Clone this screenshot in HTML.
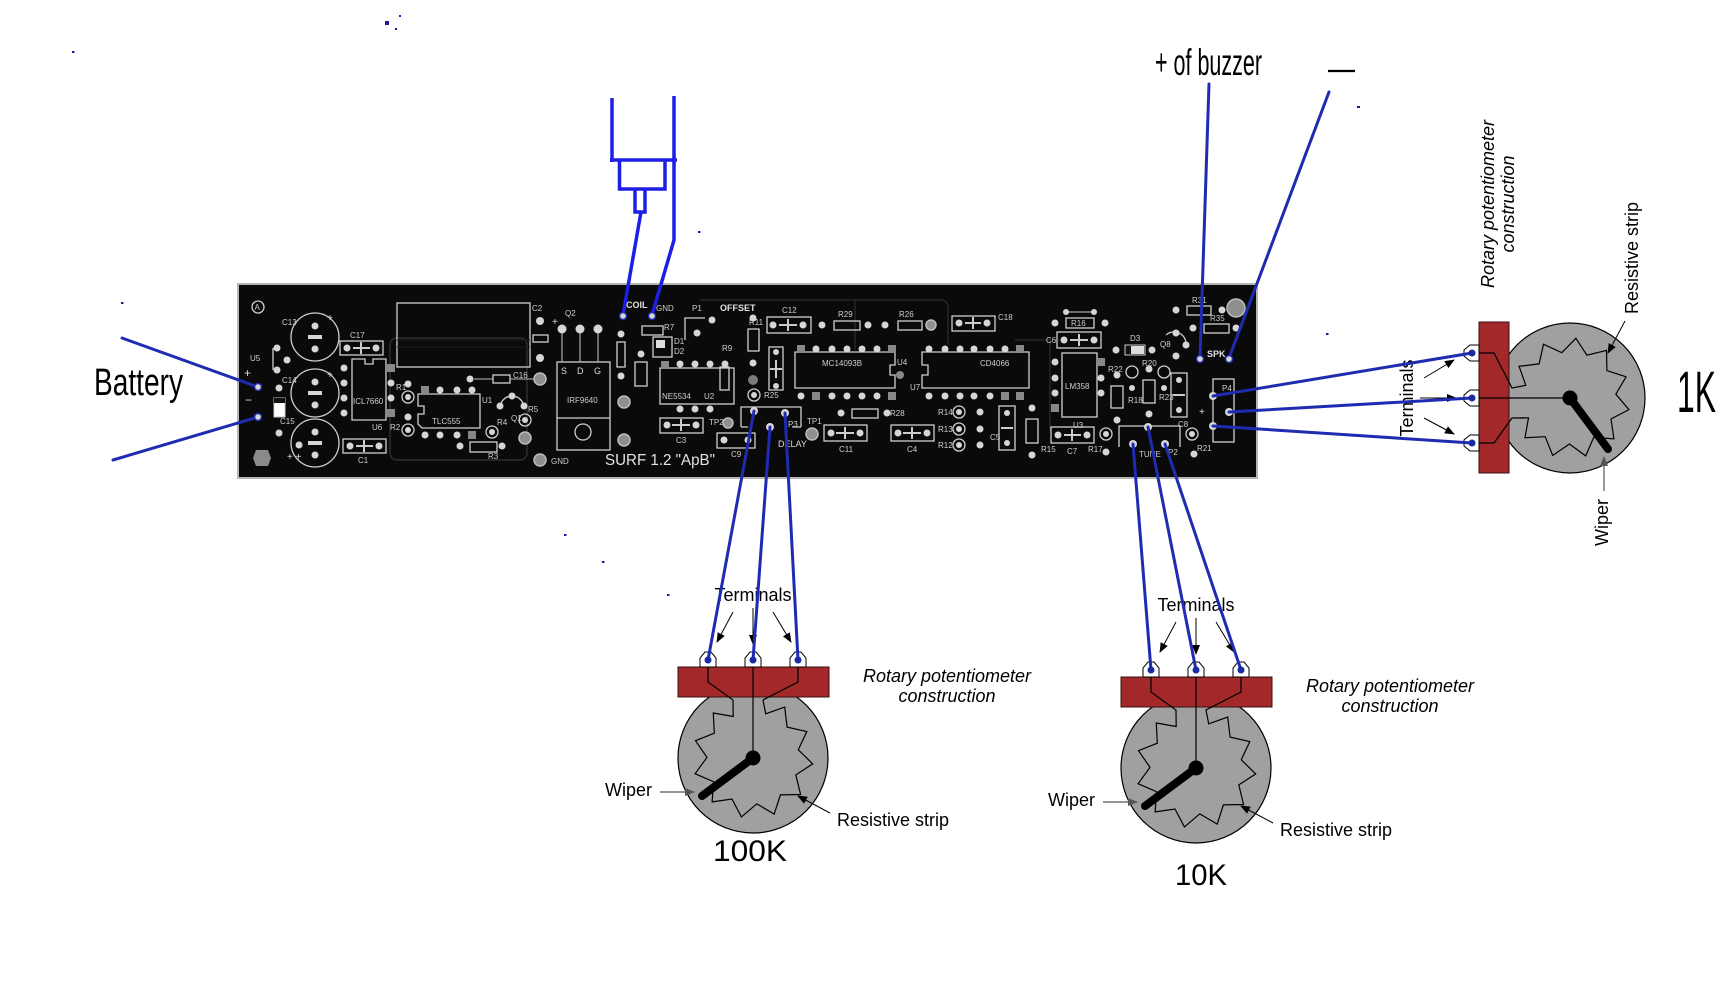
<!DOCTYPE html>
<html><head><meta charset="utf-8"><style>
html,body{margin:0;padding:0;background:#fff;}
svg{display:block;font-family:"Liberation Sans",Arial,sans-serif;}
.o{fill:none;stroke:#cfcfcf;stroke-width:1.3}
.p{fill:#d6d6d6}
.g{fill:#8f8f8f;stroke:#bdbdbd;stroke-width:1.5}
.l{fill:#cfcfcf;font-size:8px}
.lb{fill:#e0e0e0;font-size:9px;font-weight:bold}
.w{stroke:#1f2bb0;stroke-width:3;fill:none;stroke-linecap:round}
.c{stroke:#1e1ee6;stroke-width:3.5;fill:none}
.t{font-size:18px;fill:#000}
</style></head><body>
<svg width="1728" height="1008" viewBox="0 0 1728 1008" xmlns="http://www.w3.org/2000/svg">
<defs>
<marker id="ah" markerWidth="10" markerHeight="8" refX="9" refY="4" orient="auto" markerUnits="userSpaceOnUse"><path d="M0,0 L10,4 L0,8 z" fill="#000"/></marker>
<marker id="ag" markerWidth="10" markerHeight="8" refX="9" refY="4" orient="auto" markerUnits="userSpaceOnUse"><path d="M0,0 L10,4 L0,8 z" fill="#555"/></marker>
</defs>
<rect width="1728" height="1008" fill="#fff"/>

<!-- specks -->
<g fill="#1a1a9a">
<rect x="72" y="51" width="2.5" height="2"/><rect x="385" y="21" width="4" height="4"/><rect x="399" y="15" width="2" height="2"/><rect x="395" y="28" width="2" height="2"/>
<rect x="121" y="302" width="2.5" height="2"/><rect x="698" y="231" width="2.5" height="2"/><rect x="1326" y="333" width="2.5" height="2"/><rect x="1357" y="106" width="3" height="2"/>
<rect x="564" y="534" width="2.5" height="2"/><rect x="602" y="561" width="2.5" height="2"/><rect x="667" y="594" width="2.5" height="2"/>
</g>

<!-- PCB board -->
<rect x="238" y="284" width="1019" height="194" fill="#0a0a0a" stroke="#b5b5b5" stroke-width="2"/>
<g>
<path d="M390,345 Q390,338 398,338 L520,338 Q527,338 527,346 L527,452 Q527,460 519,460 L398,460 Q390,460 390,452 Z" fill="none" stroke="#2c2c2c" stroke-width="1.5"/>
<path d="M700,300 L940,300 Q948,300 948,308 L948,345 M855,300 L855,350 M1015,340 L1050,340 L1050,430" fill="none" stroke="#262626" stroke-width="1.5"/>
<circle cx="258" cy="307" r="6" class="o"/><text x="254.5" y="310" class="l">A</text>
<text x="244" y="377" fill="#ddd" font-size="12">+</text><text x="245" y="404" fill="#ddd" font-size="12">−</text>
<circle cx="258" cy="387" r="4" class="p"/><circle cx="258" cy="417" r="4" class="p"/>
<text x="250" y="361" class="l">U5</text>
<circle cx="277" cy="348" r="3.5" class="p"/><circle cx="287" cy="360" r="3.5" class="p"/><circle cx="277" cy="370" r="3.5" class="p"/>
<path d="M273,348 L273,370" class="o"/>
<rect x="274" y="398" width="11" height="19" fill="#fff" stroke="#ccc"/><rect x="274" y="398" width="11" height="5" fill="#111"/>
<circle cx="279" cy="388" r="3.5" class="p"/><circle cx="279" cy="433" r="3.5" class="p"/>
<g>
<circle cx="315" cy="337" r="24" class="o"/><circle cx="315" cy="326" r="3.5" class="p"/><circle cx="315" cy="349" r="3.5" class="p"/><rect x="308" y="335" width="14" height="4" class="p"/>
<circle cx="315" cy="393" r="24" class="o"/><circle cx="315" cy="382" r="3.5" class="p"/><circle cx="315" cy="405" r="3.5" class="p"/><rect x="308" y="391" width="14" height="4" class="p"/>
<circle cx="315" cy="443" r="24" class="o"/><circle cx="315" cy="432" r="3.5" class="p"/><circle cx="315" cy="455" r="3.5" class="p"/><rect x="308" y="441" width="14" height="4" class="p"/>
<circle cx="299" cy="445" r="3.5" class="p"/>
<text x="282" y="325" class="l">C13</text><text x="282" y="383" class="l">C14</text><text x="280" y="424" class="l">C15</text>
<text x="327" y="321" fill="#ddd" font-size="10">+</text><text x="327" y="378" fill="#ddd" font-size="10">+</text><text x="287" y="460" fill="#ddd" font-size="10">+ +</text>
</g>
<rect x="340" y="341" width="43" height="14" class="o"/><circle cx="347" cy="348" r="3.5" class="p"/><circle cx="376" cy="348" r="3.5" class="p"/><path d="M353,348 H370 M361,342 V354" stroke="#ccc" stroke-width="2"/>
<text x="350" y="338" class="l">C17</text>
<path d="M352,359 H365 V364 H373 V359 H386 V420 H352 Z" class="o"/>
<text x="353" y="404" class="l" font-size="7">ICL7660</text>
<g class="p"><circle cx="344" cy="368" r="3.5"/><circle cx="344" cy="383" r="3.5"/><circle cx="344" cy="398" r="3.5"/><circle cx="344" cy="413" r="3.5"/>
<circle cx="391" cy="383" r="3.5"/><circle cx="391" cy="398" r="3.5"/></g>
<rect x="387" y="364" width="8" height="8" fill="#888"/><rect x="387" y="409" width="8" height="8" fill="#888"/>
<text x="372" y="430" class="l">U6</text>
<rect x="343" y="439" width="43" height="14" class="o"/><circle cx="350" cy="446" r="3.5" class="p"/><circle cx="379" cy="446" r="3.5" class="p"/><path d="M356,446 H373 M364,440 V452" stroke="#ccc" stroke-width="2"/>
<text x="358" y="463" class="l">C1</text>
<polygon points="256,450 268,450 271,458 268,466 256,466 253,458" fill="#8a8a8a"/>
<rect x="397" y="303" width="133" height="64" class="o"/><path d="M397,340 H530 M397,347 H530" stroke="#1c1c1c" stroke-width="1"/>
<text x="532" y="311" class="l">C2</text><circle cx="540" cy="321" r="4" class="p"/><circle cx="540" cy="358" r="4" class="p"/>
<rect x="533" y="335" width="15" height="7" class="o"/>
<circle cx="408" cy="397" r="6" class="o"/><circle cx="408" cy="397" r="3" class="p"/><circle cx="408" cy="384" r="3.5" class="p"/><text x="396" y="390" class="l">R1</text>
<circle cx="408" cy="430" r="6" class="o"/><circle cx="408" cy="430" r="3" class="p"/><circle cx="408" cy="417" r="3.5" class="p"/><text x="390" y="430" class="l">R2</text>
<path d="M418,394 H480 V428 H422 L418,424 V414 H424 V406 H418 Z" class="o"/>
<text x="432" y="424" class="l">TLC555</text>
<g class="p"><circle cx="440" cy="390" r="3.5"/><circle cx="457" cy="390" r="3.5"/><circle cx="472" cy="390" r="3.5"/>
<circle cx="425" cy="435" r="3.5"/><circle cx="440" cy="435" r="3.5"/><circle cx="457" cy="435" r="3.5"/></g>
<rect x="421" y="386" width="8" height="8" fill="#888"/><rect x="468" y="431" width="8" height="8" fill="#888"/>
<text x="482" y="403" class="l">U1</text>
<circle cx="470" cy="379" r="3.5" class="p"/><path d="M474,379 H493 M510,379 H534" stroke="#bbb"/><rect x="493" y="375" width="17" height="8" class="o"/>
<text x="513" y="378" class="l">C16</text><circle cx="540" cy="379" r="6" class="g"/>
<path d="M500,408 A12,12 0 0 1 524,408" class="o"/>
<circle cx="512" cy="396" r="3.5" class="p"/><circle cx="500" cy="406" r="3.5" class="p"/><circle cx="524" cy="406" r="3.5" class="p"/>
<text x="511" y="421" class="l">Q1</text>
<circle cx="492" cy="432" r="6" class="o"/><circle cx="492" cy="432" r="3" class="p"/><text x="497" y="425" class="l">R4</text>
<circle cx="525" cy="420" r="6" class="o"/><circle cx="525" cy="420" r="3" class="p"/><text x="528" y="412" class="l">R5</text>
<circle cx="525" cy="438" r="6" class="g"/>
<rect x="470" y="442" width="27" height="10" class="o"/><circle cx="460" cy="446" r="3.5" class="p"/><circle cx="502" cy="446" r="3.5" class="p"/>
<text x="488" y="459" class="l">R3</text>
<circle cx="540" cy="460" r="6" class="g"/><text x="551" y="464" class="l" font-size="7">GND</text>
<text x="552" y="325" fill="#ddd" font-size="10">+</text><text x="565" y="316" class="l">Q2</text>
<circle cx="562" cy="329" r="4.5" class="p"/><circle cx="580" cy="329" r="4.5" class="p"/><circle cx="598" cy="329" r="4.5" class="p"/>
<path d="M562,333 V362 M580,333 V362 M598,333 V362" stroke="#ccc"/>
<rect x="557" y="362" width="53" height="88" class="o"/><path d="M557,418 H610" class="o"/><circle cx="583" cy="432" r="8" class="o"/>
<text x="561" y="374" fill="#ddd" font-size="9">S</text><text x="577" y="374" fill="#ddd" font-size="9">D</text><text x="594" y="374" fill="#ddd" font-size="9">G</text>
<text x="567" y="403" class="l" font-size="7">IRF9640</text>
<text x="605" y="465" fill="#e2e2e2" font-size="16" textLength="110" lengthAdjust="spacingAndGlyphs">SURF 1.2 "ApB"</text>
<text x="626" y="308" class="lb" font-size="10">COIL</text><text x="656" y="311" class="l" font-size="7">GND</text>
<circle cx="623" cy="316" r="3.5" class="p"/><circle cx="652" cy="316" r="3.5" class="p"/>
<rect x="617" y="342" width="8" height="25" class="o"/><circle cx="621" cy="334" r="3.5" class="p"/><circle cx="621" cy="376" r="3.5" class="p"/>
<rect x="635" y="362" width="12" height="24" class="o"/><circle cx="641" cy="354" r="3.5" class="p"/>
<rect x="642" y="326" width="21" height="9" class="o"/><text x="664" y="330" class="l">R7</text>
<rect x="653" y="337" width="19" height="20" class="o"/><rect x="656" y="340" width="9" height="8" fill="#ddd"/>
<text x="674" y="344" class="l" font-size="7">D1</text><text x="674" y="354" class="l" font-size="7">D2</text>
<circle cx="624" cy="402" r="6" class="g"/><circle cx="624" cy="440" r="6" class="g"/>
<text x="692" y="311" class="l">P1</text><path d="M685,340 V318 H705" class="o"/><circle cx="697" cy="333" r="3.5" class="p"/><circle cx="712" cy="320" r="3.5" class="p"/>
<text x="720" y="311" class="lb" font-size="8.5">OFFSET</text>
<rect x="660" y="368" width="74" height="36" class="o"/><text x="662" y="399" class="l" font-size="7">NE5534</text><text x="704" y="399" class="l" font-size="7">U2</text>
<g class="p"><circle cx="680" cy="364" r="3.5"/><circle cx="695" cy="364" r="3.5"/><circle cx="710" cy="364" r="3.5"/><circle cx="725" cy="364" r="3.5"/>
<circle cx="680" cy="409" r="3.5"/><circle cx="695" cy="409" r="3.5"/><circle cx="710" cy="409" r="3.5"/></g>
<rect x="661" y="361" width="8" height="8" fill="#888"/>
<rect x="660" y="418" width="43" height="15" class="o"/><circle cx="667" cy="425" r="3.5" class="p"/><circle cx="696" cy="425" r="3.5" class="p"/><path d="M672,425 H690 M681,419 V431" stroke="#ccc" stroke-width="2"/>
<text x="676" y="443" class="l">C3</text>
<text x="709" y="425" class="l">TP2</text><circle cx="728" cy="423" r="5" class="g"/>
<rect x="717" y="433" width="38" height="15" class="o"/><circle cx="724" cy="440" r="3.5" class="p"/><circle cx="748" cy="440" r="3.5" class="p"/>
<text x="731" y="457" class="l">C9</text>
<rect x="720" y="367" width="9" height="23" class="o"/><text x="722" y="351" class="l">R9</text>
<rect x="748" y="329" width="11" height="22" class="o"/><text x="749" y="325" class="l">R11</text><circle cx="753" cy="318" r="3.5" class="p"/><circle cx="753" cy="363" r="3.5" class="p"/>
<circle cx="753" cy="380" r="5" fill="#7a7a7a"/>
<rect x="767" y="317" width="44" height="16" class="o"/><circle cx="773" cy="325" r="3.5" class="p"/><circle cx="803" cy="325" r="3.5" class="p"/><path d="M779,325 H797 M788,319 V331" stroke="#ccc" stroke-width="2"/>
<text x="782" y="313" class="l">C12</text>
<rect x="834" y="321" width="26" height="9" class="o"/><circle cx="822" cy="325" r="3.5" class="p"/><circle cx="868" cy="325" r="3.5" class="p"/><text x="838" y="317" class="l">R29</text>
<rect x="898" y="321" width="24" height="9" class="o"/><circle cx="885" cy="325" r="3.5" class="p"/><circle cx="931" cy="325" r="5" class="g"/><text x="899" y="317" class="l">R26</text>
<rect x="952" y="316" width="43" height="15" class="o"/><circle cx="959" cy="323" r="3.5" class="p"/><circle cx="987" cy="323" r="3.5" class="p"/><path d="M965,323 H981 M973,317 V329" stroke="#ccc" stroke-width="2"/>
<text x="998" y="320" class="l">C18</text>
<rect x="769" y="347" width="14" height="43" class="o"/><path d="M770,369 H782 M776,360 V378" stroke="#ccc" stroke-width="2"/><circle cx="776" cy="352" r="3" class="p"/><circle cx="776" cy="386" r="3" class="p"/>
<path d="M795,352 H895 V365 H890 V375 H895 V388 H795 Z" class="o"/>
<text x="822" y="366" class="l" font-size="7">MC14093B</text><text x="897" y="365" class="l" font-size="7">U4</text>
<g class="p"><circle cx="816" cy="349" r="3.5"/><circle cx="832" cy="349" r="3.5"/><circle cx="847" cy="349" r="3.5"/><circle cx="862" cy="349" r="3.5"/><circle cx="877" cy="349" r="3.5"/>
<circle cx="801" cy="396" r="3.5"/><circle cx="832" cy="396" r="3.5"/><circle cx="847" cy="396" r="3.5"/><circle cx="862" cy="396" r="3.5"/><circle cx="877" cy="396" r="3.5"/></g>
<g fill="#888"><rect x="797" y="345" width="8" height="8"/><rect x="888" y="345" width="8" height="8"/><rect x="812" y="392" width="8" height="8"/><rect x="888" y="392" width="8" height="8"/></g>
<circle cx="900" cy="375" r="4" fill="#888"/>
<path d="M922,352 H1029 V388 H922 V375 H928 V365 H922 Z" class="o"/>
<text x="980" y="366" class="l" font-size="7">CD4066</text><text x="910" y="390" class="l" font-size="7">U7</text>
<g class="p"><circle cx="929" cy="349" r="3.5"/><circle cx="945" cy="349" r="3.5"/><circle cx="960" cy="349" r="3.5"/><circle cx="974" cy="349" r="3.5"/><circle cx="990" cy="349" r="3.5"/><circle cx="1005" cy="349" r="3.5"/>
<circle cx="929" cy="396" r="3.5"/><circle cx="945" cy="396" r="3.5"/><circle cx="960" cy="396" r="3.5"/><circle cx="974" cy="396" r="3.5"/><circle cx="990" cy="396" r="3.5"/></g>
<g fill="#888"><rect x="1016" y="345" width="8" height="8"/><rect x="1001" y="392" width="8" height="8"/><rect x="1016" y="392" width="8" height="8"/></g>
<circle cx="754" cy="395" r="6" class="o"/><circle cx="754" cy="395" r="3" class="p"/><text x="764" y="398" class="l">R25</text>
<path d="M741,427 V407 H801 V427 M741,427 H748 M792,427 H801" class="o"/>
<text x="788" y="427" class="l">P3</text><text x="778" y="447" fill="#d8d8d8" font-size="9">DELAY</text>
<text x="807" y="424" class="l">TP1</text><circle cx="812" cy="434" r="6" class="g"/>
<rect x="824" y="425" width="43" height="16" class="o"/><circle cx="831" cy="433" r="3.5" class="p"/><circle cx="860" cy="433" r="3.5" class="p"/><path d="M836,433 H854 M845,427 V439" stroke="#ccc" stroke-width="2"/>
<text x="839" y="452" class="l">C11</text>
<rect x="852" y="409" width="26" height="9" class="o"/><circle cx="841" cy="413" r="3.5" class="p"/><circle cx="887" cy="413" r="3.5" class="p"/><text x="890" y="416" class="l">R28</text>
<rect x="891" y="425" width="43" height="16" class="o"/><circle cx="898" cy="433" r="3.5" class="p"/><circle cx="927" cy="433" r="3.5" class="p"/><path d="M903,433 H921 M912,427 V439" stroke="#ccc" stroke-width="2"/>
<text x="907" y="452" class="l">C4</text>
<g><circle cx="959" cy="412" r="6" class="o"/><circle cx="959" cy="412" r="3" class="p"/><circle cx="980" cy="412" r="3.5" class="p"/>
<circle cx="959" cy="429" r="6" class="o"/><circle cx="959" cy="429" r="3" class="p"/><circle cx="980" cy="429" r="3.5" class="p"/>
<circle cx="959" cy="445" r="6" class="o"/><circle cx="959" cy="445" r="3" class="p"/><circle cx="980" cy="445" r="3.5" class="p"/>
<text x="938" y="415" class="l">R14</text><text x="938" y="432" class="l">R13</text><text x="938" y="448" class="l">R12</text></g>
<rect x="999" y="406" width="16" height="44" class="o"/><circle cx="1007" cy="413" r="3" class="p"/><circle cx="1007" cy="443" r="3" class="p"/><path d="M1001,428 H1013" stroke="#ccc" stroke-width="2"/>
<text x="990" y="440" class="l">C5</text>
<circle cx="1032" cy="408" r="3.5" class="p"/><rect x="1026" y="419" width="12" height="24" class="o"/><circle cx="1032" cy="455" r="3.5" class="p"/><text x="1041" y="452" class="l">R15</text>
<rect x="1051" y="427" width="43" height="16" class="o"/><circle cx="1058" cy="435" r="3.5" class="p"/><circle cx="1087" cy="435" r="3.5" class="p"/><path d="M1064,435 H1081 M1072,429 V441" stroke="#ccc" stroke-width="2"/>
<text x="1067" y="454" class="l">C7</text>
<circle cx="1106" cy="434" r="6" class="o"/><circle cx="1106" cy="434" r="3" class="p"/><circle cx="1106" cy="452" r="3.5" class="p"/><text x="1088" y="452" class="l">R17</text>
<rect x="1062" y="353" width="35" height="64" class="o"/><text x="1065" y="389" class="l" font-size="7">LM358</text><text x="1073" y="428" class="l" font-size="7">U3</text>
<g class="p"><circle cx="1055" cy="362" r="3.5"/><circle cx="1055" cy="378" r="3.5"/><circle cx="1055" cy="393" r="3.5"/><circle cx="1055" cy="408" r="3.5"/>
<circle cx="1101" cy="378" r="3.5"/><circle cx="1101" cy="393" r="3.5"/></g>
<rect x="1097" y="358" width="8" height="8" fill="#888"/><rect x="1051" y="404" width="8" height="8" fill="#888"/>
<rect x="1066" y="318" width="28" height="10" class="o"/><circle cx="1055" cy="323" r="3.5" class="p"/><circle cx="1105" cy="323" r="3.5" class="p"/><text x="1071" y="326" class="l" font-size="7">R16</text>
<path d="M1068,312 H1092" stroke="#ccc"/><circle cx="1066" cy="312" r="3" class="p"/><circle cx="1094" cy="312" r="3" class="p"/>
<rect x="1057" y="332" width="44" height="16" class="o"/><circle cx="1064" cy="340" r="3.5" class="p"/><circle cx="1094" cy="340" r="3.5" class="p"/><path d="M1070,340 H1088 M1079,334 V346" stroke="#ccc" stroke-width="2"/>
<text x="1046" y="343" class="l">C6</text>
<circle cx="1116" cy="350" r="3.5" class="p"/><rect x="1125" y="345" width="20" height="10" fill="#111" stroke="#ccc"/><rect x="1131" y="346" width="13" height="8" fill="#ddd"/><circle cx="1152" cy="350" r="3.5" class="p"/><text x="1130" y="341" class="l">D3</text>
<rect x="1111" y="386" width="12" height="22" class="o"/><circle cx="1117" cy="375" r="3.5" class="p"/><circle cx="1117" cy="420" r="3.5" class="p"/><text x="1108" y="372" class="l" font-size="7">R22</text>
<rect x="1143" y="380" width="12" height="23" class="o"/><circle cx="1149" cy="369" r="3.5" class="p"/><circle cx="1149" cy="414" r="3.5" class="p"/><text x="1142" y="366" class="l" font-size="7">R20</text>
<circle cx="1132" cy="372" r="6" class="o"/><circle cx="1132" cy="388" r="3" class="p"/><text x="1128" y="403" class="l" font-size="7">R18</text>
<circle cx="1164" cy="372" r="6" class="o"/><circle cx="1164" cy="388" r="3" class="p"/><text x="1159" y="400" class="l" font-size="7">R23</text>
<rect x="1171" y="373" width="16" height="44" class="o"/><circle cx="1179" cy="380" r="3" class="p"/><circle cx="1179" cy="410" r="3" class="p"/><path d="M1173,395 H1185" stroke="#ccc" stroke-width="2"/>
<text x="1178" y="427" class="l">C8</text>
<path d="M1119,447 V426 H1180 V447" class="o"/>
<text x="1139" y="457" class="l">TUNE</text><text x="1168" y="455" class="l">P2</text>
<circle cx="1192" cy="434" r="6" class="o"/><circle cx="1192" cy="434" r="3" class="p"/><circle cx="1194" cy="454" r="3.5" class="p"/><text x="1197" y="451" class="l">R21</text>
<rect x="1213" y="379" width="21" height="63" class="o"/><text x="1222" y="391" class="l" font-size="7">P4</text>
<text x="1199" y="415" fill="#ddd" font-size="10">+</text>
<rect x="1187" y="306" width="24" height="9" class="o"/><circle cx="1176" cy="310" r="3.5" class="p"/><circle cx="1222" cy="310" r="3.5" class="p"/><text x="1192" y="303" class="l">R31</text>
<rect x="1204" y="324" width="25" height="9" class="o"/><circle cx="1193" cy="328" r="3.5" class="p"/><circle cx="1236" cy="328" r="3.5" class="p"/><text x="1210" y="321" class="l">R35</text>
<circle cx="1236" cy="308" r="9" class="g"/>
<path d="M1166,335 A12,12 0 0 1 1186,345" class="o"/><circle cx="1176" cy="333" r="3.5" class="p"/><circle cx="1186" cy="345" r="3.5" class="p"/><circle cx="1176" cy="356" r="3.5" class="p"/>
<text x="1160" y="347" class="l" font-size="7">Q8</text>
<text x="1207" y="357" class="lb">SPK</text>
<circle cx="1200" cy="359" r="3.5" class="p"/><circle cx="1229" cy="359" r="3.5" class="p"/>
<g class="p"><circle cx="754" cy="411" r="4"/><circle cx="770" cy="427" r="4"/><circle cx="785" cy="413" r="4"/>
<circle cx="1133" cy="444" r="4"/><circle cx="1148" cy="427" r="4"/><circle cx="1165" cy="444" r="4"/>
<circle cx="1213" cy="396" r="4"/><circle cx="1229" cy="412" r="4"/><circle cx="1213" cy="426" r="4"/></g>
</g>

<!-- labels -->
<text x="94" y="395" font-family="'Liberation Sans Narrow','Liberation Sans',sans-serif" font-size="38" textLength="89" lengthAdjust="spacingAndGlyphs">Battery</text>
<text x="1155" y="75" font-family="'Liberation Sans Narrow','Liberation Sans',sans-serif" font-size="37" textLength="107" lengthAdjust="spacingAndGlyphs">+ of buzzer</text>
<line x1="1328" y1="71" x2="1355" y2="71" stroke="#000" stroke-width="2.2"/>
<text x="1677" y="412" font-family="'Liberation Sans Narrow','Liberation Sans',sans-serif" font-size="58" textLength="39" lengthAdjust="spacingAndGlyphs">1K</text>
<text x="713" y="861" font-size="30" textLength="74" lengthAdjust="spacingAndGlyphs">100K</text>
<text x="1175" y="885" font-size="30" textLength="52" lengthAdjust="spacingAndGlyphs">10K</text>

<!-- Potentiometers -->
<g id="pot100" transform="translate(753,758)">
<circle r="75" fill="#a0a0a0" stroke="#000" stroke-width="1.2"/>
<rect x="-75" y="-91" width="151" height="30" fill="#a3282a" stroke="#3a1010" stroke-width="1"/>
<path d="M-45,-98 V-76 L-20,-58 L-19.8,-41.5 L-39.7,-45 L-38.7,-24.8 L-57.5,-17.3 L-46,-0.6 L-57.9,15.7 L-39.4,23.7 L-40.9,43.9 L-21,41 L-11.6,58.9 L3.8,45.8 L21.2,56.1 L27.4,36.9 L47.6,36.5 L42.8,16.9 L59.7,5.9 L45.3,-8.2 L53.8,-26.5 L34.1,-30.9 L31.7,-50.9 L12.7,-44.2 L10,-58 L45,-76 V-98" fill="none" stroke="#000" stroke-width="1.2"/>
<line x1="0" y1="-98" x2="0" y2="0" stroke="#000" stroke-width="1.2"/>
<g fill="#fff" stroke="#000" stroke-width="1"><polygon points="-53,-91 -53,-100 -48,-106 -42,-106 -37,-100 -37,-91"/><polygon points="-8,-91 -8,-100 -3,-106 3,-106 8,-100 8,-91"/><polygon points="37,-91 37,-100 42,-106 48,-106 53,-100 53,-91"/></g>
<line x1="0" y1="0" x2="-51" y2="38" stroke="#000" stroke-width="8" stroke-linecap="round"/>
<circle r="7.5" fill="#000"/>
<text class="t" x="0" y="-157" text-anchor="middle">Terminals</text>
<g stroke="#000" stroke-width="1"><line x1="-20" y1="-146" x2="-36" y2="-116" marker-end="url(#ah)"/><line x1="0" y1="-150" x2="0" y2="-114" marker-end="url(#ah)"/><line x1="20" y1="-146" x2="38" y2="-116" marker-end="url(#ah)"/>
<line x1="77" y1="55" x2="45" y2="38" marker-end="url(#ah)"/></g>
<line x1="-93" y1="34" x2="-59" y2="34" stroke="#555" stroke-width="1.2" marker-end="url(#ag)"/>
<text class="t" x="-101" y="38" text-anchor="end">Wiper</text>
<text class="t" x="84" y="68">Resistive strip</text>
<text class="t" x="194" y="-76" text-anchor="middle" font-style="italic">Rotary potentiometer</text>
<text class="t" x="194" y="-56" text-anchor="middle" font-style="italic">construction</text>
</g>

<g id="pot10" transform="translate(1196,768)">
<circle r="75" fill="#a0a0a0" stroke="#000" stroke-width="1.2"/>
<rect x="-75" y="-91" width="151" height="30" fill="#a3282a" stroke="#3a1010" stroke-width="1"/>
<path d="M-45,-98 V-76 L-20,-58 L-19.8,-41.5 L-39.7,-45 L-38.7,-24.8 L-57.5,-17.3 L-46,-0.6 L-57.9,15.7 L-39.4,23.7 L-40.9,43.9 L-21,41 L-11.6,58.9 L3.8,45.8 L21.2,56.1 L27.4,36.9 L47.6,36.5 L42.8,16.9 L59.7,5.9 L45.3,-8.2 L53.8,-26.5 L34.1,-30.9 L31.7,-50.9 L12.7,-44.2 L10,-58 L45,-76 V-98" fill="none" stroke="#000" stroke-width="1.2"/>
<line x1="0" y1="-98" x2="0" y2="0" stroke="#000" stroke-width="1.2"/>
<g fill="#fff" stroke="#000" stroke-width="1"><polygon points="-53,-91 -53,-100 -48,-106 -42,-106 -37,-100 -37,-91"/><polygon points="-8,-91 -8,-100 -3,-106 3,-106 8,-100 8,-91"/><polygon points="37,-91 37,-100 42,-106 48,-106 53,-100 53,-91"/></g>
<line x1="0" y1="0" x2="-51" y2="38" stroke="#000" stroke-width="8" stroke-linecap="round"/>
<circle r="7.5" fill="#000"/>
<text class="t" x="0" y="-157" text-anchor="middle">Terminals</text>
<g stroke="#000" stroke-width="1"><line x1="-20" y1="-146" x2="-36" y2="-116" marker-end="url(#ah)"/><line x1="0" y1="-150" x2="0" y2="-114" marker-end="url(#ah)"/><line x1="20" y1="-146" x2="38" y2="-116" marker-end="url(#ah)"/>
<line x1="77" y1="55" x2="45" y2="38" marker-end="url(#ah)"/></g>
<line x1="-93" y1="34" x2="-59" y2="34" stroke="#555" stroke-width="1.2" marker-end="url(#ag)"/>
<text class="t" x="-101" y="38" text-anchor="end">Wiper</text>
<text class="t" x="84" y="68">Resistive strip</text>
<text class="t" x="194" y="-76" text-anchor="middle" font-style="italic">Rotary potentiometer</text>
<text class="t" x="194" y="-56" text-anchor="middle" font-style="italic">construction</text>
</g>

<g id="pot1" transform="translate(1570,398) rotate(-90)">
<circle r="75" fill="#a0a0a0" stroke="#000" stroke-width="1.2"/>
<rect x="-75" y="-91" width="151" height="30" fill="#a3282a" stroke="#3a1010" stroke-width="1"/>
<path d="M-45,-98 V-76 L-20,-58 L-19.8,-41.5 L-39.7,-45 L-38.7,-24.8 L-57.5,-17.3 L-46,-0.6 L-57.9,15.7 L-39.4,23.7 L-40.9,43.9 L-21,41 L-11.6,58.9 L3.8,45.8 L21.2,56.1 L27.4,36.9 L47.6,36.5 L42.8,16.9 L59.7,5.9 L45.3,-8.2 L53.8,-26.5 L34.1,-30.9 L31.7,-50.9 L12.7,-44.2 L10,-58 L45,-76 V-98" fill="none" stroke="#000" stroke-width="1.2"/>
<line x1="0" y1="-98" x2="0" y2="0" stroke="#000" stroke-width="1.2"/>
<g fill="#fff" stroke="#000" stroke-width="1"><polygon points="-53,-91 -53,-100 -48,-106 -42,-106 -37,-100 -37,-91"/><polygon points="-8,-91 -8,-100 -3,-106 3,-106 8,-100 8,-91"/><polygon points="37,-91 37,-100 42,-106 48,-106 53,-100 53,-91"/></g>
<line x1="0" y1="0" x2="-51" y2="38" stroke="#000" stroke-width="8" stroke-linecap="round"/>
<circle r="7.5" fill="#000"/>
<text class="t" x="0" y="-157" text-anchor="middle">Terminals</text>
<g stroke="#000" stroke-width="1"><line x1="-20" y1="-146" x2="-36" y2="-116" marker-end="url(#ah)"/><line x1="0" y1="-150" x2="0" y2="-114" marker-end="url(#ah)"/><line x1="20" y1="-146" x2="38" y2="-116" marker-end="url(#ah)"/>
<line x1="77" y1="55" x2="45" y2="38" marker-end="url(#ah)"/></g>
<line x1="-93" y1="34" x2="-59" y2="34" stroke="#555" stroke-width="1.2" marker-end="url(#ag)"/>
<text class="t" x="-101" y="38" text-anchor="end">Wiper</text>
<text class="t" x="84" y="68">Resistive strip</text>
<text class="t" x="194" y="-76" text-anchor="middle" font-style="italic">Rotary potentiometer</text>
<text class="t" x="194" y="-56" text-anchor="middle" font-style="italic">construction</text>
</g>

<!-- coil drawing -->
<path class="c" d="M612,98 V162 M674,96 V240 L652,315 M610,160 H677 M619.5,160 V189 H665 V160 M635,189 V212 H645 V189 M641,212 L623,315"/>

<!-- wires -->
<g class="w">
<line x1="122" y1="338" x2="258" y2="387"/>
<line x1="113" y1="460" x2="258" y2="417"/>
<line x1="1209" y1="84" x2="1200" y2="358"/>
<line x1="1329" y1="92" x2="1229" y2="358"/>
<line x1="754" y1="411" x2="708" y2="660"/>
<line x1="770" y1="427" x2="753" y2="660"/>
<line x1="785" y1="413" x2="798" y2="660"/>
<line x1="1133" y1="444" x2="1151" y2="670"/>
<line x1="1148" y1="427" x2="1196" y2="670"/>
<line x1="1165" y1="444" x2="1241" y2="670"/>
<line x1="1213" y1="396" x2="1472" y2="353"/>
<line x1="1229" y1="412" x2="1472" y2="398"/>
<line x1="1213" y1="426" x2="1472" y2="443"/>
</g>
<g fill="#1a2aa0">
<circle cx="708" cy="660" r="3.5"/><circle cx="753" cy="660" r="3.5"/><circle cx="798" cy="660" r="3.5"/>
<circle cx="1151" cy="670" r="3.5"/><circle cx="1196" cy="670" r="3.5"/><circle cx="1241" cy="670" r="3.5"/>
<circle cx="1472" cy="353" r="3.5"/><circle cx="1472" cy="398" r="3.5"/><circle cx="1472" cy="443" r="3.5"/>
</g>
<g fill="#d6d6d6" stroke="#1f2bb0" stroke-width="1.5">
<circle cx="258" cy="387" r="3.5"/><circle cx="258" cy="417" r="3.5"/>
<circle cx="1200" cy="359" r="3.5"/><circle cx="1229" cy="359" r="3.5"/>
<circle cx="623" cy="316" r="3.5"/><circle cx="652" cy="316" r="3.5"/>
</g>
</svg>
</body></html>
